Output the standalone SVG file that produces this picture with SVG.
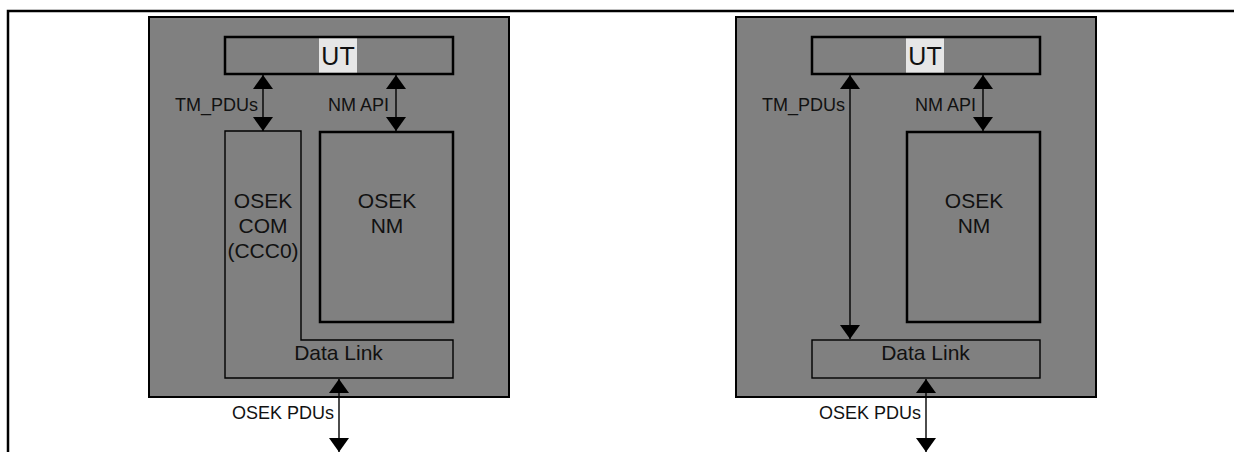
<svg xmlns="http://www.w3.org/2000/svg" width="1234" height="452" viewBox="0 0 1234 452">
<style>
text{font-family:"Liberation Sans",Arial,sans-serif;fill:#111}
.big{font-size:21px;text-anchor:middle}
.lbl{font-size:18px;text-anchor:end}
.ut{font-size:25px;text-anchor:middle}
.sys{fill:#808080;stroke:#000;stroke-width:2}
.thick{fill:#808080;stroke:#000;stroke-width:2.5}
.thin{fill:#808080;stroke:#000;stroke-width:1.4}
.hl{fill:#e6e6e6}
.conn line{stroke:#000;stroke-width:1.4;marker-start:url(#ah);marker-end:url(#ah)}
</style>
<defs>
<marker id="ah" viewBox="0 0 14 20" refX="14" refY="10" markerWidth="14" markerHeight="20" markerUnits="userSpaceOnUse" orient="auto-start-reverse">
<path d="M0,0 L14,10 L0,20 z" fill="#000"/>
</marker>
</defs>
<rect width="1234" height="452" fill="#fff"/>
<path d="M8,452 V11 H1234" fill="none" stroke="#000" stroke-width="2.5"/>

<g id="left-system">
<rect class="sys" x="149" y="17" width="360" height="380"/>
</g>
<g id="left-ut">
<rect class="thick" x="225" y="37" width="228" height="37"/>
<rect class="hl" x="319" y="38.5" width="38" height="34"/>
<text class="ut" x="338" y="65">UT</text>
</g>
<g id="left-com">
<path class="thin" d="M225,131 H301 V340 H453 V378 H225 Z"/>
<text class="big" x="263" y="208">OSEK</text>
<text class="big" x="263" y="233">COM</text>
<text class="big" x="263" y="258">(CCC0)</text>
</g>
<g id="left-datalink">
<text class="big" x="338.5" y="360">Data Link</text>
</g>
<g id="left-nm">
<rect class="thick" x="320" y="132" width="133" height="190"/>
<text class="big" x="387" y="208">OSEK</text>
<text class="big" x="387" y="233">NM</text>
</g>

<g id="right-system">
<rect class="sys" x="736" y="17" width="360" height="380"/>
</g>
<g id="right-ut">
<rect class="thick" x="812" y="37" width="228" height="37"/>
<rect class="hl" x="906" y="38.5" width="38" height="34"/>
<text class="ut" x="925" y="65">UT</text>
</g>
<g id="right-nm">
<rect class="thick" x="907" y="132" width="133" height="190"/>
<text class="big" x="974" y="208">OSEK</text>
<text class="big" x="974" y="233">NM</text>
</g>
<g id="right-datalink">
<rect class="thin" x="812" y="340" width="228" height="38"/>
<text class="big" x="925.5" y="360">Data Link</text>
</g>

<g id="connectors" class="conn">
<line x1="263" y1="75" x2="263" y2="131"/>
<line x1="396" y1="75" x2="396" y2="131"/>
<line x1="339" y1="379" x2="339" y2="452"/>
<line x1="850" y1="75" x2="850" y2="339"/>
<line x1="983" y1="75" x2="983" y2="131"/>
<line x1="926" y1="379" x2="926" y2="452"/>
</g>
<g id="labels">
<text class="lbl" x="258" y="111">TM_PDUs</text>
<text class="lbl" x="389" y="111">NM API</text>
<text class="lbl" x="334" y="419">OSEK PDUs</text>
<text class="lbl" x="845" y="111">TM_PDUs</text>
<text class="lbl" x="976" y="111">NM API</text>
<text class="lbl" x="921" y="419">OSEK PDUs</text>
</g>
</svg>
